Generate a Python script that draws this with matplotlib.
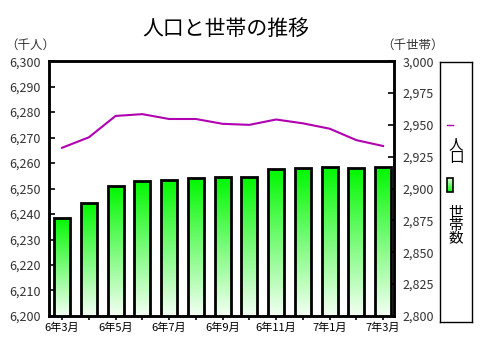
import matplotlib
matplotlib.use("Agg")
import matplotlib.pyplot as plt
import numpy as np
from matplotlib.patches import Rectangle
from matplotlib.lines import Line2D
from matplotlib.colors import LinearSegmentedColormap

plt.rcParams['font.family'] = ['Noto Sans CJK JP', 'DejaVu Sans']

months = ["6年3月", "6年4月", "6年5月", "6年6月", "6年7月", "6年8月", "6年9月",
          "6年10月", "6年11月", "6年12月", "7年1月", "7年2月", "7年3月"]
population = [6266.0, 6270.1, 6278.5, 6279.2, 6277.3, 6277.3, 6275.4,
              6275.0, 6277.1, 6275.6, 6273.5, 6269.0, 6266.7]
households = [2877, 2889, 2902, 2906, 2907, 2908, 2909,
              2909, 2915, 2916, 2917, 2916, 2917]
left_ticks = [6200, 6210, 6220, 6230, 6240, 6250, 6260, 6270, 6280, 6290, 6300]
right_ticks = [2800, 2825, 2850, 2875, 2900, 2925, 2950, 2975, 3000]

fig = plt.figure(figsize=(4.8, 3.64), dpi=100)
ax1 = fig.add_axes([0.102, 0.132, 0.719, 0.700])
ax2 = ax1.twinx()
ax1.set_zorder(2)
ax1.patch.set_visible(False)

x = np.arange(len(months))

# bars (households) on right axis with gradient fill
bars = ax2.bar(x, households, width=0.6, bottom=0, color='none',
               edgecolor='black', linewidth=2.0, zorder=3)
grad = np.linspace(0, 1, 256).reshape(-1, 1)
cmap = LinearSegmentedColormap.from_list('g', ['#f4fff4', '#00f800'])
ax2.set_ylim(2800, 3000)
for b in bars:
    x0, w, h = b.get_x(), b.get_width(), b.get_height()
    im = ax2.imshow(grad, extent=[x0, x0 + w, 2800, h], origin='lower',
                    aspect='auto', cmap=cmap, zorder=2)
    im.set_clip_path(b)
ax2.set_xlim(-0.49, 12.41)
ax2.set_ylim(2800, 3000)
ax2.set_yticks(right_ticks)
ax2.set_yticklabels([f"{v:,}" for v in right_ticks], fontsize=9)

# line (population) on left axis
ax1.plot(x, population, color='#b000b0', linewidth=1.5, zorder=5)
ax1.set_ylim(6200, 6300)
ax1.set_xlim(-0.49, 12.41)
ax1.set_yticks(left_ticks)
ax1.set_yticklabels([f"{v:,}" for v in left_ticks], fontsize=9)
ax1.set_xticks(x)
ax1.set_xticklabels([m if i % 2 == 0 else "" for i, m in enumerate(months)], fontsize=8)

for ax in (ax1, ax2):
    for s in ax.spines.values():
        s.set_linewidth(1.8)
ax1.tick_params(axis='y', direction='in', length=4, width=1.2, pad=6, labelcolor='#333333')
ax2.tick_params(axis='y', direction='in', length=4, width=1.2, pad=6, labelcolor='#333333')
ax1.tick_params(axis='x', direction='out', length=3, width=1.2, pad=2)

fig.text(0.47, 0.92, "人口と世帯の推移", fontsize=15, ha='center', va='center')
fig.text(0.012, 0.875, "（千人）", fontsize=9, ha='left', va='center', color='#333333')
fig.text(0.795, 0.875, "（千世帯）", fontsize=9, ha='left', va='center', color='#333333')

# legend box
lax = fig.add_axes([0.917, 0.115, 0.066, 0.715])
lax.set_xlim(0, 1)
lax.set_ylim(0, 1)
lax.set_xticks([])
lax.set_yticks([])
for s in lax.spines.values():
    s.set_linewidth(1.0)
lax.add_line(Line2D([0.22, 0.42], [0.757, 0.757], color='#b000b0', linewidth=1.0))
lax.text(0.5, 0.655, "人\n口", fontsize=10.5, ha='center', va='center', linespacing=0.95)
lr = Rectangle((0.22, 0.50), 0.17, 0.055, facecolor='none', edgecolor='black', linewidth=1.2)
lax.add_patch(lr)
lim = lax.imshow(grad, extent=[0.22, 0.39, 0.50, 0.555], origin='upper', aspect='auto', cmap=cmap)
lim.set_clip_path(lr)
lax.text(0.5, 0.37, "世\n帯\n数", fontsize=10.5, ha='center', va='center', linespacing=0.85)

fig.savefig("out.png", dpi=100)
